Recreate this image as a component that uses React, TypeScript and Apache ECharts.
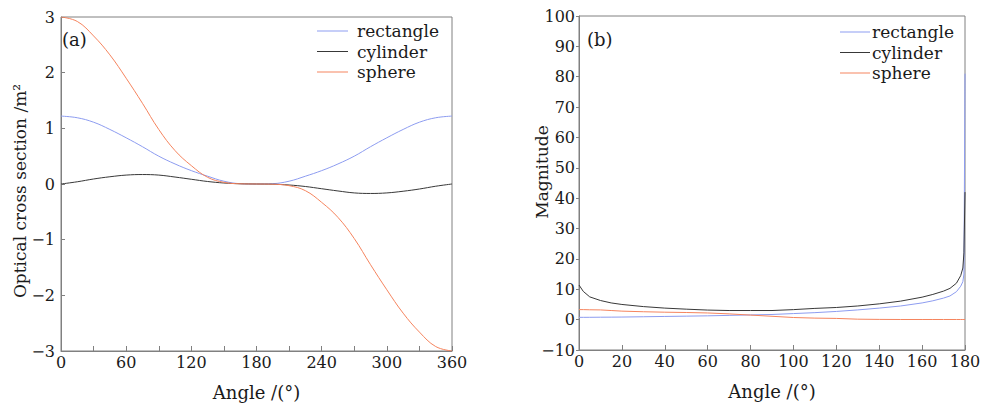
import React, { useEffect, useRef } from "react";
import * as echarts from "echarts";

// ---------- Data: panel (a) ----------
const anglesA = [0, 15, 30, 45, 60, 75, 90, 105, 120, 135, 150, 165, 180, 195, 210, 225, 240, 255, 270, 285, 300, 315, 330, 345, 360];
const rectangleA = [1.22, 1.19, 1.11, 0.98, 0.83, 0.67, 0.5, 0.36, 0.24, 0.14, 0.05, 0.006, 0, 0.006, 0.05, 0.14, 0.24, 0.36, 0.5, 0.67, 0.83, 0.98, 1.11, 1.19, 1.22];
const cylinderA = [0, 0.04, 0.09, 0.13, 0.16, 0.17, 0.16, 0.125, 0.085, 0.045, 0.018, 0.004, 0, -0.004, -0.018, -0.045, -0.085, -0.125, -0.16, -0.17, -0.16, -0.13, -0.09, -0.04, 0];
const sphereA = [3.0, 2.92, 2.66, 2.32, 1.9, 1.45, 0.98, 0.6, 0.33, 0.12, 0.03, 0.004, 0, -0.004, -0.03, -0.12, -0.33, -0.6, -0.98, -1.45, -1.9, -2.32, -2.66, -2.92, -3.0];

// ---------- Data: panel (b) ----------
const anglesB = [0, 2, 5, 10, 15, 20, 30, 40, 50, 60, 70, 80, 90, 100, 110, 120, 130, 140, 150, 160, 165, 170, 173, 176, 178, 179, 179.5, 180];
const rectangleB = [0.76, 0.76, 0.77, 0.8, 0.82, 0.85, 0.95, 1.05, 1.15, 1.25, 1.4, 1.55, 1.7, 2.0, 2.3, 2.7, 3.2, 3.8, 4.5, 5.5, 6.2, 7.1, 7.8, 9.2, 11, 12.5, 15, 81];
const cylinderB = [11.4, 9.3, 7.5, 6.3, 5.5, 5.0, 4.3, 3.8, 3.45, 3.15, 3.0, 3.0, 3.0, 3.3, 3.7, 4.0, 4.5, 5.2, 6.1, 7.4, 8.3, 9.4, 10.3, 12, 14.5, 17, 22, 42];
const sphereB = [3.3, 3.3, 3.25, 3.2, 3.0, 2.8, 2.6, 2.45, 2.35, 2.2, 1.9, 1.5, 1.1, 0.7, 0.5, 0.4, 0.15, 0.08, 0.05, 0.05, 0.05, 0.05, 0.05, 0.05, 0.05, 0.05, 0.05, 0.05];

const seriesNames = ["rectangle", "cylinder", "sphere"];
const colors = ["#8d9cf0", "#383838", "#f5845e"];

const FONT = "DejaVu Serif";
const TXT = "#1a1a1a";
const AXIS = "#808080";

const pairs = (xs: number[], ys: number[]) => xs.map((x, i) => [x, ys[i]]);
const minus = (v: number) => String(v).replace("-", "\u2212");

export default function App() {
  const ref = useRef<HTMLDivElement>(null);
  useEffect(() => {
    if (!ref.current) return;
    const chart = echarts.init(ref.current, undefined, { renderer: "svg" });
    const labelStyle = { fontFamily: FONT, fontSize: 16, color: TXT };
    const legendBase = {
      orient: "vertical" as const,
      icon: "rect",
      padding: 0,
      itemHeight: 1,
      itemGap: 2.5,
      data: seriesNames,
      textStyle: { fontFamily: FONT, fontSize: 17, color: TXT, lineHeight: 18 },
    };
    const dataA = [rectangleA, cylinderA, sphereA];
    const dataB = [rectangleB, cylinderB, sphereB];
    const xName = {
      name: "Angle /(°)", nameLocation: "middle" as const, nameGap: 32,
      nameTextStyle: { fontFamily: FONT, fontSize: 18, color: TXT },
    };
    chart.setOption({
      animation: false,
      backgroundColor: "#ffffff",
      grid: [
        { left: 61, top: 17, width: 391, height: 334, show: true, borderColor: AXIS, borderWidth: 1 },
        { left: 579, top: 16, width: 386, height: 334, show: true, borderColor: AXIS, borderWidth: 1 },
      ],
      legend: [
        { ...legendBase, left: 317, top: 22, itemWidth: 31, textStyle: { ...legendBase.textStyle, padding: [0, 0, 0, 4] } },
        { ...legendBase, left: 840, top: 23, itemWidth: 30, textStyle: { ...legendBase.textStyle, padding: [0, 0, 0, -3] } },
      ],
      xAxis: [
        {
          type: "value", gridIndex: 0, min: 0, max: 360, interval: 30, ...xName,
          axisLine: { onZero: false, lineStyle: { color: AXIS } },
          axisTick: { inside: true, length: 5, lineStyle: { color: AXIS } },
          axisLabel: { ...labelStyle, margin: 3, formatter: (v: number) => (v % 60 === 0 ? String(v) : "") },
          splitLine: { show: false },
        },
        {
          type: "value", gridIndex: 1, min: 0, max: 180, interval: 20, ...xName,
          axisLine: { onZero: false, lineStyle: { color: AXIS } },
          axisTick: { inside: true, length: 5, lineStyle: { color: AXIS } },
          axisLabel: { ...labelStyle, margin: 3 },
          splitLine: { show: false },
        },
      ],
      yAxis: [
        {
          type: "value", gridIndex: 0, min: -3, max: 3, interval: 1,
          axisLine: { onZero: false, lineStyle: { color: AXIS } },
          axisTick: { inside: true, length: 4, lineStyle: { color: AXIS } },
          axisLabel: { ...labelStyle, margin: 6, formatter: minus },
          splitLine: { show: false },
        },
        {
          type: "value", gridIndex: 1, min: -10, max: 100, interval: 10,
          axisLine: { onZero: false, lineStyle: { color: AXIS } },
          axisTick: { inside: false, length: 3, lineStyle: { color: AXIS } },
          axisLabel: { ...labelStyle, margin: 4, formatter: minus },
          splitLine: { show: false },
        },
      ],
      series: [
        ...seriesNames.map((name, i) => ({
          name, type: "line", xAxisIndex: 0, yAxisIndex: 0, smooth: 0.4, symbol: "none",
          lineStyle: { color: colors[i], width: 1 }, itemStyle: { color: colors[i] },
          data: pairs(anglesA, dataA[i]),
        })),
        ...seriesNames.map((name, i) => ({
          name, type: "line", xAxisIndex: 1, yAxisIndex: 1, smooth: false, symbol: "none",
          lineStyle: { color: colors[i], width: 1 }, itemStyle: { color: colors[i] },
          data: pairs(anglesB, dataB[i]),
        })),
      ],
      graphic: [
        { type: "text", left: 62, top: 30, style: { text: "(a)", font: `18px "${FONT}"`, fill: TXT } },
        { type: "text", left: 587, top: 30, style: { text: "(b)", font: `18px "${FONT}"`, fill: TXT } },
        {
          type: "text", x: 20, y: 191, rotation: Math.PI / 2,
          style: { text: "Optical cross section /m\u00b2", font: `17px "${FONT}"`, fill: TXT, align: "center", verticalAlign: "middle" },
        },
        {
          type: "text", x: 542, y: 172, rotation: Math.PI / 2,
          style: { text: "Magnitude", font: `17px "${FONT}"`, fill: TXT, align: "center", verticalAlign: "middle" },
        },
      ],
    });
    return () => chart.dispose();
  }, []);
  return <div ref={ref} style={{ position: "absolute", left: 0, top: 0, width: 985, height: 406 }} />;
}
